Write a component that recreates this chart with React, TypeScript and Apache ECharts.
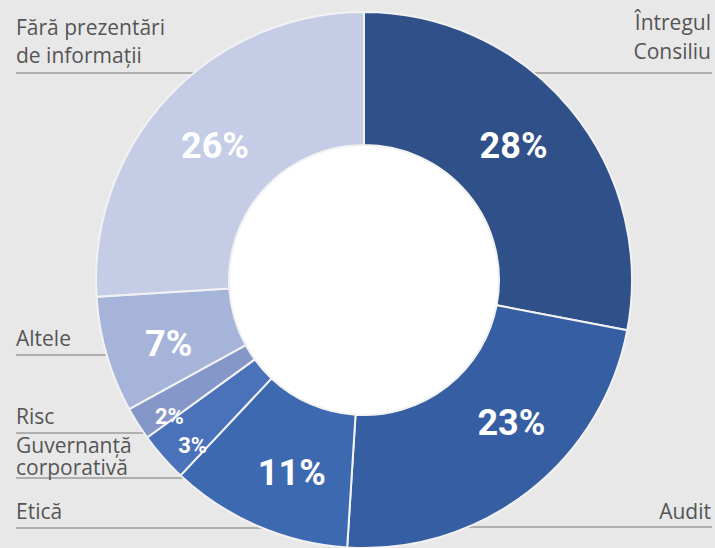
import React, { useEffect, useRef } from "react";
import * as echarts from "echarts";

// ---- data ----
const categories = [
  "Întregul\nConsiliu",
  "Audit",
  "Etică",
  "Guvernanță\ncorporativă",
  "Risc",
  "Altele",
  "Fără prezentări\nde informații",
];
const values = [28, 23, 11, 3, 2, 7, 26];

// ---- styles ----
const sliceColors = ["#2f5089", "#355ea3", "#3d69b0", "#4a72ba", "#8596c9", "#a6b4da", "#c5cde6"];
const pctFontSizes = [36, 36, 36, 22, 22, 36, 36];
const pctOffsets = [
  [-8, -4],
  [22, -19],
  [9, 5],
  [-18, 30],
  [-22, 27],
  [1, 7],
  [0, 6],
];
const nameLayout = [
  { x: 711, y: 7, align: "right", lh: 29, lineY: 73, x0: 364, x1: 712 },
  { x: 711, y: 500, align: "right", lh: 22, lineY: 527, x0: 364, x1: 712 },
  { x: 16, y: 500, align: "left", lh: 22, lineY: 528, x0: 16, x1: 364 },
  { x: 16, y: 434, align: "left", lh: 22, lineY: 478, x0: 16, x1: 364 },
  { x: 16, y: 405, align: "left", lh: 22, lineY: 433, x0: 16, x1: 364 },
  { x: 16, y: 327, align: "left", lh: 22, lineY: 355, x0: 16, x1: 364 },
  { x: 16, y: 13, align: "left", lh: 28, lineY: 73, x0: 16, x1: 364 },
];

const CENTER = [364, 280];
const INNER = 135;
const OUTER = 268;
const BG = "#e8e8e8";
const NAME_FONT = "'Open Sans', 'Noto Sans', sans-serif";
const PCT_FONT = "Roboto, 'Liberation Sans', sans-serif";

export default function App() {
  const ref = useRef<HTMLDivElement>(null);

  useEffect(() => {
    document.body.style.margin = "0";
    const chart = echarts.init(ref.current!, null, { renderer: "svg" });

    const graphics: any[] = [];
    categories.forEach((name, i) => {
      const l = nameLayout[i];
      graphics.push({
        type: "line",
        z: 0,
        shape: { x1: l.x0, y1: l.lineY, x2: l.x1, y2: l.lineY },
        style: { stroke: "#9d9d9d", lineWidth: 1.6 },
      });
      graphics.push({
        type: "text",
        z: 0,
        x: l.x,
        y: l.y,
        style: {
          text: name,
          align: l.align,
          verticalAlign: "top",
          fill: "#555555",
          fontSize: 21,
          fontFamily: NAME_FONT,
          lineHeight: l.lh,
        },
      });
    });

    chart.setOption({
      animation: false,
      backgroundColor: BG,
      graphic: { elements: graphics },
      series: [
        {
          type: "pie",
          z: 2,
          silent: true,
          center: CENTER,
          radius: [0, INNER],
          label: { show: false },
          labelLine: { show: false },
          itemStyle: { color: "#ffffff", borderColor: "#d6d6d6", borderWidth: 1.2 },
          data: [{ value: 1, name: "" }],
        },
        {
          type: "pie",
          z: 3,
          center: CENTER,
          radius: [INNER, OUTER],
          startAngle: 90,
          clockwise: true,
          avoidLabelOverlap: false,
          itemStyle: { borderColor: "#f2f2f2", borderWidth: 2 },
          label: {
            show: true,
            position: "inside",
            color: "#ffffff",
            fontWeight: "bold",
            fontFamily: PCT_FONT,
            formatter: (p: any) => `${p.value}%`,
          },
          labelLine: { show: false },
          labelLayout: (p: any) => ({
            dx: pctOffsets[p.dataIndex][0],
            dy: pctOffsets[p.dataIndex][1],
          }),
          data: values.map((v, i) => ({
            value: v,
            name: categories[i],
            itemStyle: { color: sliceColors[i] },
            label: { fontSize: pctFontSizes[i] },
          })),
        },
      ],
    });

    return () => chart.dispose();
  }, []);

  return <div ref={ref} style={{ width: 715, height: 548, background: BG }} />;
}
